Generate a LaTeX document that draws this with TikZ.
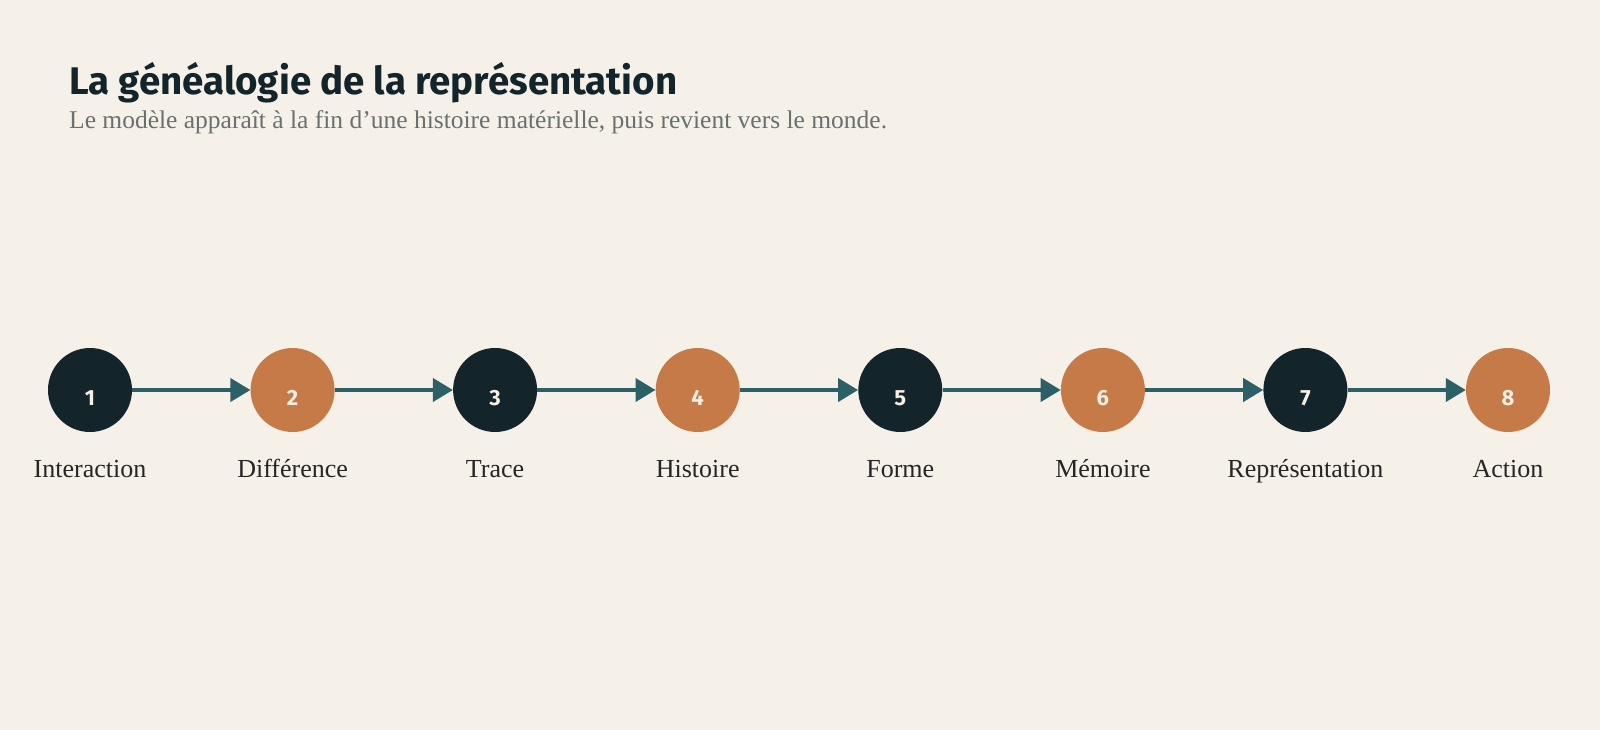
\documentclass[tikz,border=0pt]{standalone}
\usepackage{fontspec}
\setmainfont{Liberation Serif}
\newfontfamily\titlefont{Fira Sans}[UprightFont=* SemiBold,BoldFont=* Bold]
\usetikzlibrary{arrows.meta}
\definecolor{paper}{HTML}{F5F0E8}
\definecolor{ink}{HTML}{13252B}
\definecolor{clay}{HTML}{C67A47}
\definecolor{teal}{HTML}{2D6066}
\definecolor{slate}{HTML}{68716F}
\definecolor{labelink}{HTML}{262626}
\definecolor{numink}{HTML}{F5EFE6}
\newcommand{\num}[1]{\raisebox{-15pt}[0pt][0pt]{#1}}
\begin{document}
\begin{tikzpicture}[x=1pt,y=-1pt]
            \fill[paper] (0,0) rectangle (1600,730);
            \useasboundingbox (0,0) rectangle (1600,730);

            \node[anchor=base west, inner sep=0, text=ink, font=\titlefont\bfseries\fontsize{38.5}{44}\selectfont] (title) at (69,95) {La généalogie de la représentation};
            \node[anchor=base west, inner sep=0, text=slate, font=\fontsize{25.5}{30}\selectfont] (subtitle) at (69,129) {Le modèle apparaît à la fin d’une histoire matérielle, puis revient vers le monde.};

            \begin{scope}[every node/.style={circle, minimum size=84pt, inner sep=0, text=numink,
                            font=\titlefont\bfseries\fontsize{22}{24}\selectfont}]

                \node[fill=ink] (1) at (90,390) {\num{1}};
                \node[fill=clay] (2) at (292.6,390) {\num{2}};
                \node[fill=ink] (3) at (495.1,390) {\num{3}};
                \node[fill=clay] (4) at (697.7,390) {\num{4}};
                \node[fill=ink] (5) at (900.3,390) {\num{5}};
                \node[fill=clay] (6) at (1102.9,390) {\num{6}};
                \node[fill=ink] (7) at (1305.4,390) {\num{7}};
                \node[fill=clay] (8) at (1508,390) {\num{8}};

            \end{scope}
            \begin{scope}[every node/.style={anchor=base, inner sep=0, text=labelink,
                            font=\fontsize{26}{30}\selectfont}]

                \node (l1) at (90,477) {Interaction};
                \node (l2) at (292.6,477) {Différence};
                \node (l3) at (495.1,477) {Trace};
                \node (l4) at (697.7,477) {Histoire};
                \node (l5) at (900.3,477) {Forme};
                \node (l6) at (1102.9,477) {Mémoire};
                \node (l7) at (1305.4,477) {Représentation};
                \node (l8) at (1508,477) {Action};

            \end{scope}
            \begin{scope}[every edge/.style={draw, teal, line width=4pt,
                            -{Triangle[length=20pt,width=23pt]}}]
                \path (1) edge (2);
                \path (2) edge (3);
                \path (3) edge (4);
                \path (4) edge (5);
                \path (5) edge (6);
                \path (6) edge (7);
                \path (7) edge (8);
            \end{scope}

        \end{tikzpicture}
\end{document}
